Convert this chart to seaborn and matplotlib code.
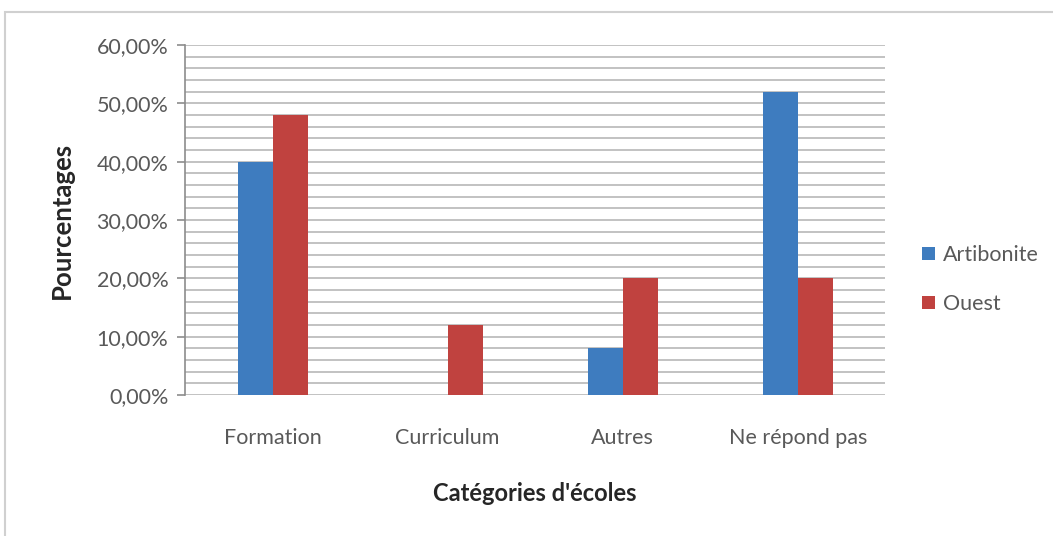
import numpy as np
import pandas as pd
import matplotlib
matplotlib.use("Agg")
import matplotlib.pyplot as plt
import seaborn as sns
from matplotlib.ticker import MultipleLocator, FuncFormatter
from matplotlib.patches import Rectangle

categories = ["Formation", "Curriculum", "Autres", "Ne répond pas"]
artibonite = [40, 0, 8, 52]
ouest = [48, 12, 20, 20]
series_names = ["Artibonite", "Ouest"]
colors = ["#3e7cbf", "#c0423f"]

df = pd.DataFrame({
    "categorie": categories * 2,
    "serie": [series_names[0]] * 4 + [series_names[1]] * 4,
    "valeur": artibonite + ouest,
})

sns.set_theme(style="white")
plt.rcParams["font.family"] = ["Lato", "DejaVu Sans"]

fig = plt.figure(figsize=(10.53, 5.36), dpi=100)
ax = fig.add_axes([0.1757, 0.263, 0.665, 0.653])

# chart border, like the Excel chart area
fig.patches.append(Rectangle((5 / 1053, -0.01), 1.02, 1 - 12 / 536 + 0.01,
                             transform=fig.transFigure, fill=False,
                             edgecolor="#d0d0d0", linewidth=1.5))

sns.barplot(data=df, x="categorie", y="valeur", hue="serie", palette=colors,
            width=0.4, gap=0, saturation=1, linewidth=0, ax=ax, zorder=3)

ax.set_ylim(0, 60)
ax.set_xlim(-0.5, 3.5)
ax.yaxis.set_major_locator(MultipleLocator(10))
ax.yaxis.set_minor_locator(MultipleLocator(2))
ax.yaxis.set_major_formatter(FuncFormatter(lambda v, p: f"{v:.2f}%".replace(".", ",")))
ax.grid(axis="y", which="both", color="#b8b8b8", linewidth=1.2, zorder=0)
ax.set_axisbelow(True)

for s in ["top", "right", "bottom"]:
    ax.spines[s].set_visible(False)
ax.spines["left"].set_color("#8c8c8c")
ax.spines["left"].set_linewidth(1.2)
ax.tick_params(axis="y", which="major", length=6, width=1.2, color="#8c8c8c",
               left=True, labelsize=15.5, labelcolor="#595959", pad=6)
ax.tick_params(axis="y", which="minor", length=0)
ax.tick_params(axis="x", length=0, labelsize=15.5, labelcolor="#595959", pad=24)

ax.set_xlabel("Catégories d'écoles", fontsize=17, fontweight="bold", labelpad=24)
ax.set_ylabel("Pourcentages", fontsize=18.5, fontweight="bold", labelpad=16)

handles, labels = ax.get_legend_handles_labels()
ax.legend(handles, labels, loc="center left", bbox_to_anchor=(1.025, 0.33),
          frameon=False, fontsize=15.5, handlelength=0.6, handleheight=0.6,
          labelspacing=1.35, handletextpad=0.35, labelcolor="#595959")

fig.savefig("out.png", dpi=100)
